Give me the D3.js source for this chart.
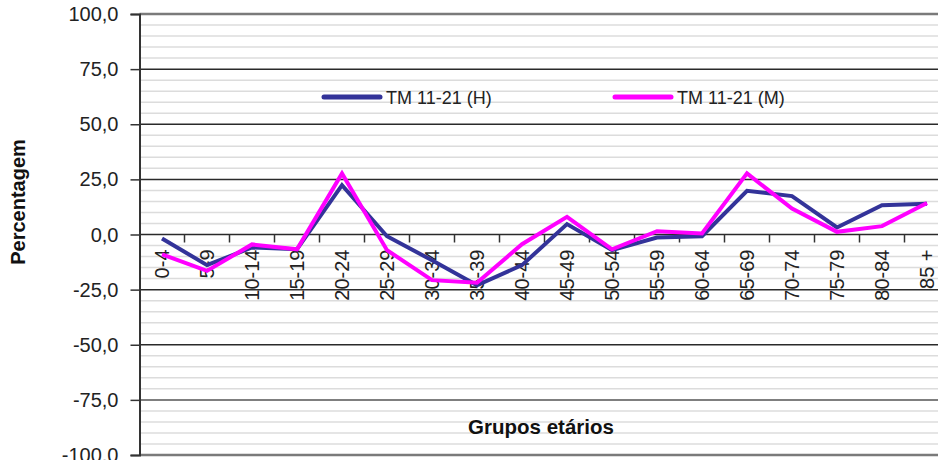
<!DOCTYPE html>
<html>
<head>
<meta charset="utf-8">
<script src="https://cdn.jsdelivr.net/npm/d3@7"></script>
<style>
  html, body { margin: 0; padding: 0; background: #fff; }
  svg { display: block; font-family: "Liberation Sans", Arial, sans-serif; }
</style>
</head>
<body>
<svg id="chart" width="938" height="460"></svg>
<script>
// Age groups and rate of change (%) by sex
const categories = ["0-4", "5-9", "10-14", "15-19", "20-24", "25-29", "30-34", "35-39", "40-44",
                    "45-49", "50-54", "55-59", "60-64", "65-69", "70-74", "75-79", "80-84", "85 +"];
const menValues   = [-1.8, -13.9, -5.9, -6.7, 22.4, -0.8, -11.7, -23.0, -13.9,
                     4.7, -7.1, -1.4, -0.8, 19.8, 17.4, 3.2, 13.3, 14.0];
const womenValues = [-9.0, -16.5, -4.5, -6.7, 27.7, -7.1, -20.7, -21.9, -4.4,
                     8.0, -6.7, 1.5, 0.5, 27.7, 11.8, 1.2, 3.8, 14.3];
const seriesNames = ["TM 11-21 (H)", "TM 11-21 (M)"];
const yTicks = [-100, -75, -50, -25, 0, 25, 50, 75, 100];
const yMinorTicks = d3.range(-95, 100, 5).filter(v => v % 25 !== 0);

const svg = d3.select("#chart");
const W = 938, H = 460;
const plot = { left: 139.5, right: 949.5, top: 14, bottom: 455 };

const x = d3.scaleBand().domain(categories).range([plot.left, plot.right]).padding(0);
const y = d3.scaleLinear().domain([-100, 100]).range([plot.bottom, plot.top]);

const locale = d3.formatLocale({ decimal: ",", thousands: ".", grouping: [3], currency: ["", "€"], minus: "-" });
const fmt = locale.format(".1f");

const g = svg.append("g");

// Minor horizontal gridlines
g.append("g").selectAll("line").data(yMinorTicks).join("line")
  .attr("x1", plot.left).attr("x2", W)
  .attr("y1", d => y(d)).attr("y2", d => y(d))
  .attr("stroke", "#dcdcdc").attr("stroke-width", 1.5);

// Major horizontal gridlines
g.append("g").selectAll("line").data(yTicks).join("line")
  .attr("x1", plot.left).attr("x2", W)
  .attr("y1", d => y(d)).attr("y2", d => y(d))
  .attr("stroke", d => (Math.abs(d) === 100 ? "#7a7a7a" : (d === -75 ? "#555" : "#2a2a2a")))
  .attr("stroke-width", d => (Math.abs(d) === 100 ? 2.5 : 1.5));

// Y axis
const yAxis = d3.axisLeft(y).tickValues(yTicks).tickFormat(fmt).tickSize(9).tickPadding(12);
const ya = g.append("g").attr("transform", `translate(${plot.left},0)`).call(yAxis);
ya.select(".domain").attr("stroke", "#333").attr("stroke-width", 2);
ya.selectAll(".tick line").attr("stroke", "#333").attr("stroke-width", 1.5);
ya.selectAll(".tick text").attr("font-size", 20).attr("fill", "#222")
  .attr("font-family", "'Liberation Sans', Arial, sans-serif").attr("dy", "0.33em");

// Category ticks on the zero line (between groups)
const boundaries = categories.slice(1).map(c => x(c));
g.append("g").selectAll("line").data(boundaries).join("line")
  .attr("x1", d => d).attr("x2", d => d)
  .attr("y1", y(0)).attr("y2", y(0) + 8)
  .attr("stroke", "#333").attr("stroke-width", 1.5);

// Category labels, rotated
g.append("g").selectAll("text").data(categories).join("text")
  .attr("transform", d => `translate(${x(d) + x.bandwidth() / 2 + 7},${y(0) + 15}) rotate(-90)`)
  .attr("text-anchor", "end")
  .attr("font-size", 20).attr("fill", "#222")
  .text(d => d);

// Series lines
const line = d3.line()
  .x((d, i) => x(categories[i]) + x.bandwidth() / 2)
  .y(d => y(d));

const series = [
  { name: seriesNames[0], values: menValues, color: "#333399" },
  { name: seriesNames[1], values: womenValues, color: "#ff00ff" }
];

g.append("g").selectAll("path").data(series).join("path")
  .attr("d", d => line(d.values))
  .attr("fill", "none")
  .attr("stroke", d => d.color)
  .attr("stroke-width", 4)
  .attr("stroke-linejoin", "miter");

// Legend
const legendPos = [{ x: 324, y: 97 }, { x: 615, y: 97 }];
const lg = g.append("g").selectAll("g").data(series).join("g")
  .attr("transform", (d, i) => `translate(${legendPos[i].x},${legendPos[i].y})`);
lg.append("line").attr("x1", 0).attr("x2", 56).attr("y1", 0).attr("y2", 0)
  .attr("stroke", d => d.color).attr("stroke-width", 5).attr("stroke-linecap", "round");
lg.append("text").attr("x", 62).attr("y", 6.5)
  .attr("font-size", 18).attr("fill", "#222").text(d => d.name);

// Axis titles
g.append("text")
  .attr("x", 541).attr("y", 434)
  .attr("text-anchor", "middle").attr("font-weight", "bold").attr("font-size", 20.5)
  .attr("fill", "#111").text("Grupos etários");

g.append("text")
  .attr("transform", `translate(25,202) rotate(-90)`)
  .attr("text-anchor", "middle").attr("font-weight", "bold").attr("font-size", 20)
  .attr("fill", "#111").text("Percentagem");
</script>
</body>
</html>
